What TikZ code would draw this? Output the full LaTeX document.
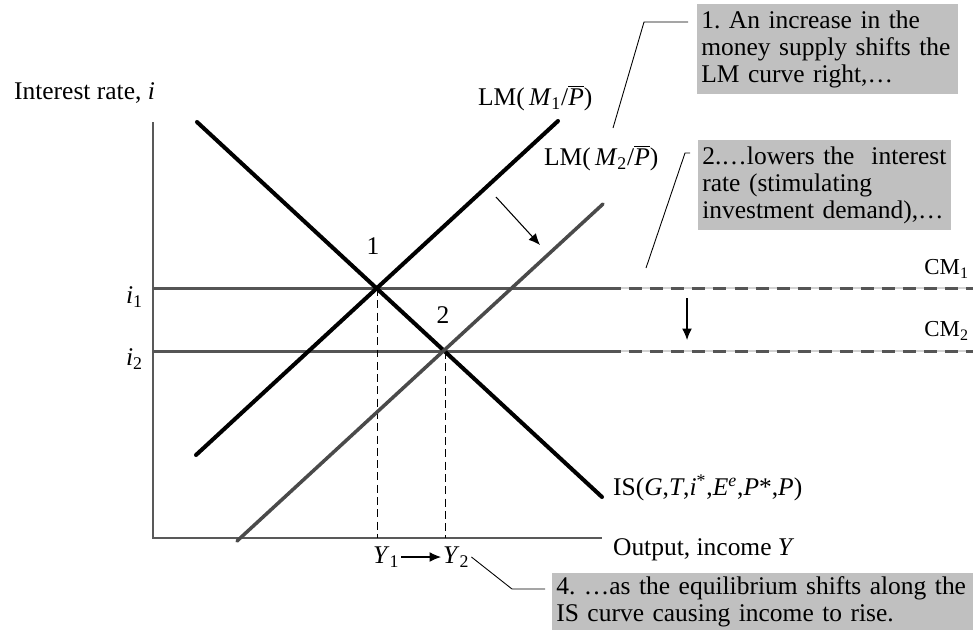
\documentclass[tikz,border=0pt]{standalone}
\usepackage{fontspec}
\setmainfont{Liberation Serif}
\usetikzlibrary{arrows.meta}
\definecolor{lmgray}{HTML}{4A4A4A}
\definecolor{rategray}{HTML}{555555}
\definecolor{notegray}{HTML}{C0C0C0}
\newcommand{\Pbar}{$\overline{\mbox{\textit{P}}}$}
\frenchspacing
\tikzset{
  every node/.style={inner sep=1pt, font=\fontsize{14.5}{15.6}\selectfont},
  curve/.style={line width=2.3pt, line cap=round},
  shifted/.style={curve, color=lmgray, line width=2pt},
  axisline/.style={line width=0.9pt, color=gray!70!black},
  rate/.style={line width=1.7pt, color=rategray},
  ratedash/.style={line width=1.7pt, color=rategray, dash pattern=on 7.4pt off 4.6pt},
  guide/.style={line width=0.5pt, dash pattern=on 4.5pt off 2.5pt},
  callout/.style={line width=0.5pt},
  note/.style={fill=notegray, align=left, anchor=north west, inner xsep=0.08cm, inner ysep=0.12cm},
  cmlabel/.style={font=\fontsize{13}{15}\selectfont, anchor=east},
  tip/.style={-{Latex[length=6.5pt, width=5.6pt]}, line width=0.6pt}
}
\begin{document}
\begin{tikzpicture}[x=0.02cm, y=-0.02cm]
	\useasboundingbox (0,0) rectangle (973,630);
	\coordinate (O) at (153,538);
	\coordinate (T) at (153,122);
	\coordinate (X) at (602,538);
	\coordinate (E1) at (377,288);
	\coordinate (E2) at (445,351);
	\coordinate (A) at (197,122);
	\coordinate (B) at (602,497);
	\coordinate (C) at (196,455);
	\coordinate (D) at (558,121);
	\coordinate (F) at (237,541);
	\coordinate (G) at (603,204);
	\coordinate (H1) at (608,288);
	\coordinate (H2) at (608,351);
	\coordinate (K1) at (973,288);
	\coordinate (K2) at (973,351);
	\coordinate (S1) at (496,197);
	\coordinate (S2) at (540,245);
	\coordinate (D1) at (687,298);
	\coordinate (D2) at (687,340);
	\coordinate (Q1) at (688,22);
	\coordinate (Q2) at (644,22);
	\coordinate (Q3) at (613,128);
	\coordinate (R1) at (690,153);
	\coordinate (R2) at (685,153);
	\coordinate (R3) at (646,268);
	\coordinate (U1) at (512,589);
	\coordinate (U2) at (545,589);
	\draw[axisline] (T)--(O)--(X);
	\draw[rate] (T |- E1)--(H1);
	\draw[rate] (T |- E2)--(H2);
	\draw[gray!35, line width=0.6pt] (H1)--(K1);
	\draw[gray!35, line width=0.6pt] (H2)--(K2);
	\draw[ratedash] (H1)--(K1);
	\draw[ratedash] (H2)--(K2);
	\draw[guide] (E1)--(E1 |- O);
	\draw[guide] (E2)--(E2 |- O);
	\draw[curve] (A)--(B);
	\draw[curve] (C)--(D);
	\draw[shifted] (F)--(G);
	\draw[tip] (S1)--(S2);
	\draw[tip] (D1)--(D2);
	\draw[callout] (Q1)--(Q2)--(Q3);
	\draw[callout] (R1)--(R2)--(R3);
	\node (yaxis) at (12,93)[right] {Interest rate, \textit{i}};
	\node (xaxis) at (611,550)[right] {Output, income \textit{Y}};
	\node (i1) at (145,297)[left] {\textit{i}\textsubscript{1}};
	\node (i2) at (145,359)[left] {\textit{i}\textsubscript{2}};
	\node (p1) at (373,246) {1};
	\node (p2) at (443,315) {2};
	\node (Y1) at (371,557)[right] {\textit{Y}\textsubscript{1}};
	\node (Y2) at (441,557)[right] {\textit{Y}\textsubscript{2}};
	\node (LM1) at (476,98)[right] {LM(\,\textit{M}\textsubscript{1}/\Pbar)};
	\node (LM2) at (542,158)[right] {LM(\,\textit{M}\textsubscript{2}/\Pbar)};
	\node (IS) at (611,488)[right] {IS(\textit{G},\textit{T},\textit{i}\textsuperscript{*},\textit{E}\textsuperscript{\textit{e}},\textit{P}*,\textit{P})};
	\node[cmlabel] (CM1) at (971,269) {CM\textsubscript{1}};
	\node[cmlabel] (CM2) at (971,331) {CM\textsubscript{2}};
	\node[note, text width=5.06cm] (N1) at (697,4) {1. An increase in the\\money supply shifts the\\LM curve right,\ldots};
	\node[note, text width=4.9cm] (N2) at (698,140) {2.\ldots lowers the\ \ interest\\rate (stimulating\\investment demand),\ldots};
	\node[note, text width=8.6cm, inner ysep=0.06cm] (N4) at (552,573) {4. \ldots as the equilibrium shifts along the\\IS curve causing income to rise.};
	\draw[tip] (Y1.east)--(Y2.west);
	\draw[callout] (Y2.east)--(U1)--(U2);
\end{tikzpicture}
\end{document}
